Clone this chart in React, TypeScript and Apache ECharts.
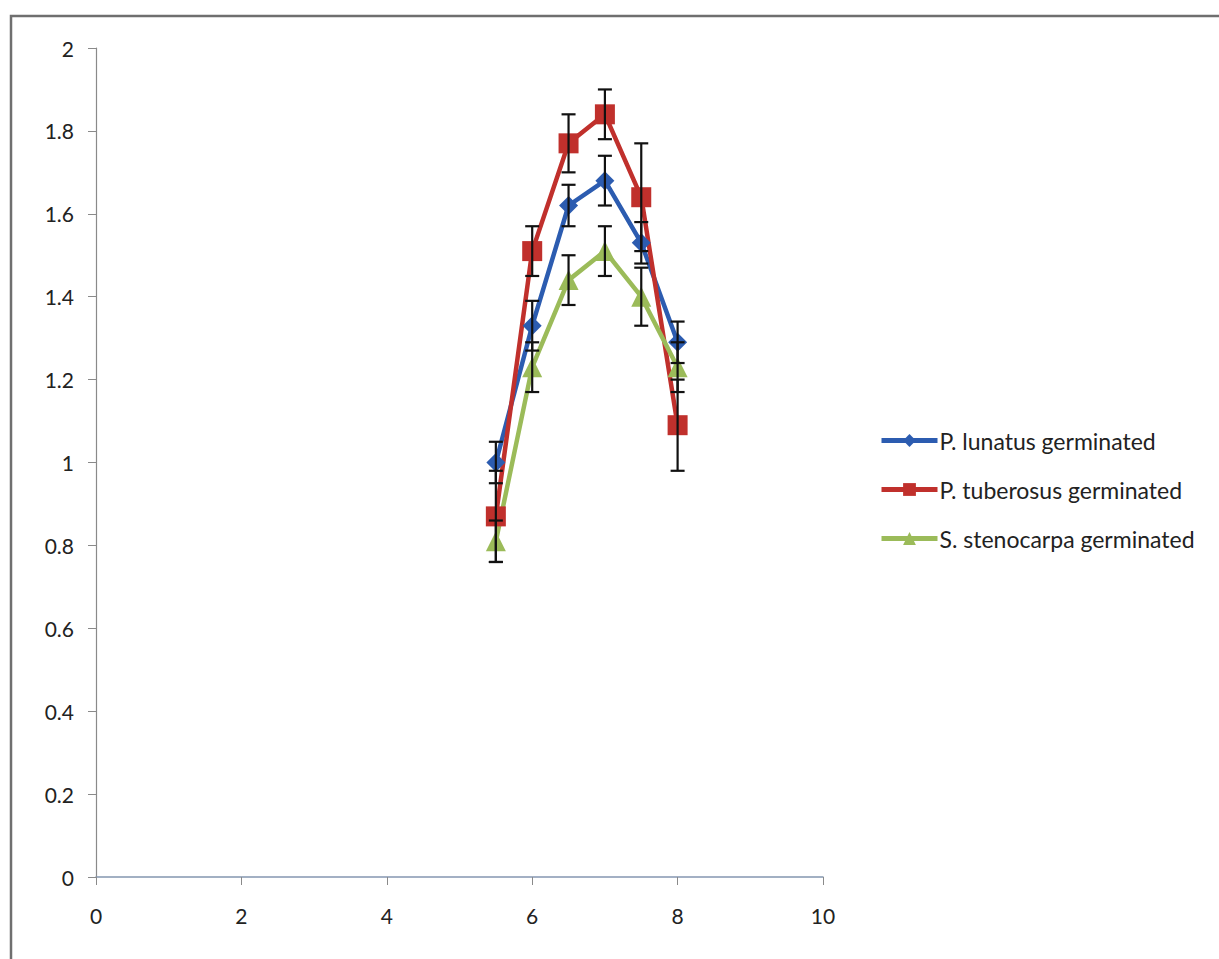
import React, { useEffect, useRef } from "react";
import * as echarts from "echarts";

// pH values at which each sample was measured
const phValues = [5.5, 6, 6.5, 7, 7.5, 8];

// Mean values per species
const lunatusMean = [1.0, 1.33, 1.62, 1.68, 1.53, 1.29];
const tuberosusMean = [0.87, 1.51, 1.77, 1.84, 1.64, 1.09];
const stenocarpaMean = [0.81, 1.23, 1.44, 1.51, 1.4, 1.23];

// Standard errors (± half-width of each error bar)
const lunatusErr = [0.05, 0.06, 0.05, 0.06, 0.05, 0.05];
const tuberosusErr = [0.11, 0.06, 0.07, 0.06, 0.13, 0.11];
const stenocarpaErr = [0.05, 0.06, 0.06, 0.06, 0.07, 0.06];

const seriesNames = [
  "P. lunatus germinated",
  "P. tuberosus germinated",
  "S. stenocarpa germinated",
];
const seriesColors = ["#2C5CB0", "#C0302C", "#9BBB59"];
const seriesSymbols = ["diamond", "rect", "triangle"];
const symbolSizes = [19, 20, 20];

const FONT = "Lato, 'Open Sans', sans-serif";

function pairs(means: number[]) {
  return phValues.map((x, i) => [x, means[i]]);
}

function errorRows(means: number[], errs: number[]) {
  return phValues.map((x, i) => [x, means[i] - errs[i], means[i] + errs[i]]);
}

export default function App() {
  const ref = useRef<HTMLDivElement>(null);

  useEffect(() => {
    if (!ref.current) return;
    const chart = echarts.init(ref.current, undefined, { renderer: "svg" });

    const means = [lunatusMean, tuberosusMean, stenocarpaMean];
    const errs = [lunatusErr, tuberosusErr, stenocarpaErr];

    const lineSeries = means.map((m, i) => ({
      name: seriesNames[i],
      type: "line",
      data: pairs(m),
      symbol: seriesSymbols[i],
      symbolSize: symbolSizes[i],
      lineStyle: { color: seriesColors[i], width: 4.5 },
      itemStyle: { color: seriesColors[i] },
      z: 2,
    }));

    const errorSeries = means.map((m, i) => ({
      type: "custom",
      name: seriesNames[i] + " err",
      data: errorRows(m, errs[i]),
      z: 5,
      silent: true,
      renderItem: (params: any, api: any) => {
        const x = api.value(0);
        const lo = api.coord([x, api.value(1)]);
        const hi = api.coord([x, api.value(2)]);
        const cap = 7;
        const style = { stroke: "#111", lineWidth: 2.2 };
        return {
          type: "group",
          children: [
            { type: "line", shape: { x1: lo[0], y1: lo[1], x2: hi[0], y2: hi[1] }, style },
            { type: "line", shape: { x1: hi[0] - cap, y1: hi[1], x2: hi[0] + cap, y2: hi[1] }, style },
            { type: "line", shape: { x1: lo[0] - cap, y1: lo[1], x2: lo[0] + cap, y2: lo[1] }, style },
          ],
        };
      },
      encode: { x: 0, y: [1, 2] },
    }));

    chart.setOption({
      animation: false,
      backgroundColor: "#ffffff",
      graphic: [
        {
          type: "rect",
          shape: { x: 11, y: 16, width: 1230, height: 980 },
          style: { fill: "none", stroke: "#6f6f6f", lineWidth: 2.5 },
          z: -1,
        },
      ],
      grid: { left: 96, top: 48, right: 396, bottom: 82, containLabel: false },
      legend: {
        data: seriesNames,
        orient: "vertical",
        left: 874,
        top: 424,
        itemWidth: 56,
        itemHeight: 16,
        itemGap: 26,
        lineStyle: { width: 5 },
        textStyle: { fontFamily: FONT, fontSize: 23, color: "#222", padding: [0, 0, 0, -3] },
      },
      xAxis: {
        type: "value",
        min: 0,
        max: 10,
        interval: 2,
        axisLine: { show: true, lineStyle: { color: "#8496b0", width: 1.5 } },
        axisTick: { show: true, inside: false, length: 8, lineStyle: { color: "#8a8a8a" } },
        axisLabel: { fontFamily: FONT, fontSize: 21, color: "#222", margin: 28 },
        splitLine: { show: false },
      },
      yAxis: {
        type: "value",
        min: 0,
        max: 2,
        interval: 0.2,
        axisLine: { show: true, lineStyle: { color: "#8a8a8a", width: 1.2 } },
        axisTick: { show: true, inside: false, length: 8, lineStyle: { color: "#8a8a8a" } },
        axisLabel: {
          fontFamily: FONT,
          fontSize: 21,
          color: "#222",
          margin: 22,
          formatter: (v: number) => String(+v.toFixed(1)),
        },
        splitLine: { show: false },
      },
      series: [...lineSeries, ...errorSeries],
    });

    return () => chart.dispose();
  }, []);

  return (
    <div
      ref={ref}
      style={{ position: "fixed", left: 0, top: 0, width: 1219, height: 959 }}
    />
  );
}
